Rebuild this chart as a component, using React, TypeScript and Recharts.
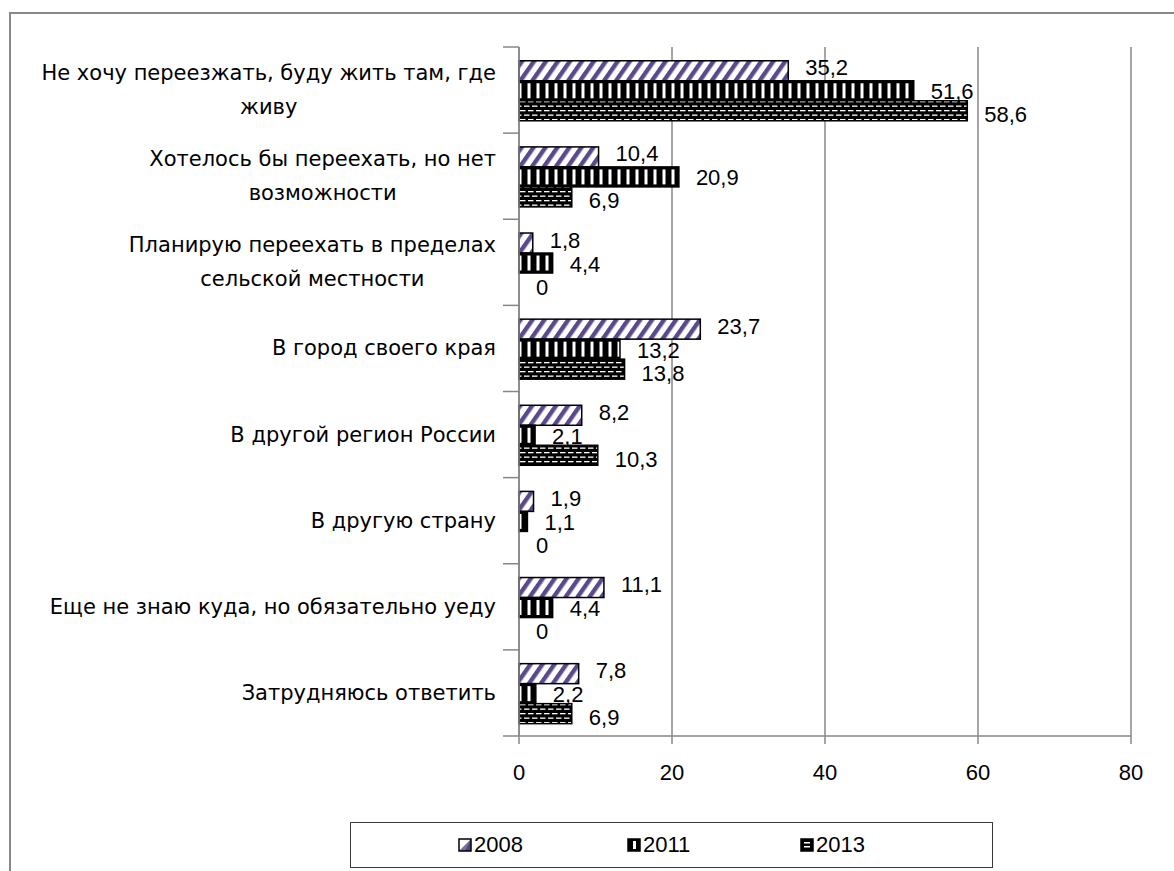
import { BarChart, Bar, XAxis, YAxis, CartesianGrid, LabelList } from "recharts";

const categories = [
  "Не хочу переезжать, буду жить там, где\nживу",
  "Хотелось бы переехать, но нет\nвозможности",
  "Планирую переехать в пределах\nсельской местности",
  "В город своего края",
  "В другой регион России",
  "В другую страну",
  "Еще не знаю куда, но обязательно уеду",
  "Затрудняюсь ответить",
];
const years = ["2008", "2011", "2013"];
const v2008 = [35.2, 10.4, 1.8, 23.7, 8.2, 1.9, 11.1, 7.8];
const v2011 = [51.6, 20.9, 4.4, 13.2, 2.1, 1.1, 4.4, 2.2];
const v2013 = [58.6, 6.9, 0, 13.8, 10.3, 0, 0, 6.9];
const xTicks = [0, 20, 40, 60, 80];

const data = categories.map((name, i) => ({
  name,
  y2008: v2008[i],
  y2011: v2011[i],
  y2013: v2013[i],
}));

// no Times-like font in the sandbox: wider sans for categories, Liberation Sans for numbers
const CAT_FONT = "'DejaVu Sans', 'Liberation Sans', sans-serif";
const CAT_FS = 21;
const FONT = "'Liberation Sans', Arial, sans-serif";
const FS = 22;
const GRAY = "#878787";
const W = 1174;
const H = 871;
const M = { top: 47, right: 43, left: 0, bottom: 75 };
const X_AXIS_H = 60;
const Y_AXIS_W = 519;
const LABEL_GAP = 23;
const BAND = (H - M.top - M.bottom - X_AXIS_H) / categories.length;

let ctx: CanvasRenderingContext2D | null = null;
function textWidth(s: string) {
  if (!ctx) ctx = document.createElement("canvas").getContext("2d");
  if (!ctx) return s.length * CAT_FS * 0.55;
  ctx.font = `${CAT_FS}px ${CAT_FONT}`;
  return ctx.measureText(s).width;
}

function CategoryTick(props: any) {
  const { x, y, payload, index } = props;
  const lines = String(payload.value).split("\n");
  const maxW = Math.max(...lines.map(textWidth));
  const cx = x - maxW / 2;
  const lineH = 34;
  const y0 = y - ((lines.length - 1) * lineH) / 2;
  const axisX = x + LABEL_GAP;
  return (
    <g>
      <line x1={axisX - 16} x2={axisX} y1={y - BAND / 2} y2={y - BAND / 2} stroke={GRAY} strokeWidth={1.5} />
      {index === categories.length - 1 && (
        <line x1={axisX - 16} x2={axisX} y1={y + BAND / 2} y2={y + BAND / 2} stroke={GRAY} strokeWidth={1.5} />
      )}
      {lines.map((l, i) => (
        <text
          key={i}
          x={cx}
          y={y0 + i * lineH}
          textAnchor="middle"
          dominantBaseline="central"
          style={{ fontFamily: CAT_FONT, fontSize: CAT_FS }}
          fill="#000"
        >
          {l}
        </text>
      ))}
    </g>
  );
}

// bar shapes: 2008 diagonal stripes, 2011 vertical slits, 2013 dashed brick
function shapeFor(year: string) {
  return (p: any) => {
    const { x, y, width, height } = p;
    if (!width || width <= 0) return <g />;
    if (year === "2011") {
      return (
        <g>
          <rect x={x} y={y} width={width} height={height} fill="#000" />
          <rect x={x} y={y + 2.5} width={width} height={Math.max(0, height - 5)} fill="url(#p2011)" />
          <rect x={x} y={y} width={width} height={height} fill="none" stroke="#000" strokeWidth={1.5} />
        </g>
      );
    }
    return (
      <rect
        x={x}
        y={y}
        width={width}
        height={height}
        fill={year === "2008" ? "url(#p2008)" : "url(#p2013)"}
        stroke="#000"
        strokeWidth={1.5}
      />
    );
  };
}

function valueLabel(dy: number) {
  return (p: any) => {
    const { x, y, width, height, value } = p;
    return (
      <text
        x={x + width + 17}
        y={y + height / 2 + dy}
        dominantBaseline="central"
        style={{ fontFamily: FONT, fontSize: FS }}
        fill="#000"
      >
        {String(value).replace(".", ",")}
      </text>
    );
  };
}

const labelDy: Record<string, number> = { "2008": -3, "2011": 1, "2013": 4 };

function Patterns() {
  return (
    <svg width={0} height={0} style={{ position: "absolute" }}>
      <defs>
        <pattern id="p2008" patternUnits="userSpaceOnUse" width={9.8} height={20} patternTransform="rotate(35)">
          <rect width={9.8} height={20} fill="#fff" />
          <rect x={0} width={4.4} height={20} fill="#5a4a8c" />
        </pattern>
        <pattern id="p2011" patternUnits="userSpaceOnUse" width={9} height={10}>
          <rect x={5.5} width={3} height={10} fill="#fff" />
        </pattern>
        <pattern id="p2013" patternUnits="userSpaceOnUse" width={8} height={9}>
          <rect width={8} height={9} fill="#000" />
          <rect x={0} y={2} width={5.5} height={1.3} fill="#fff" />
          <rect x={4} y={6.5} width={4} height={1.3} fill="#fff" />
          <rect x={0} y={6.5} width={1.5} height={1.3} fill="#fff" />
        </pattern>
      </defs>
    </svg>
  );
}

function Swatch({ year }: { year: string }) {
  return (
    <svg width={14} height={14} style={{ display: "block" }}>
      {year === "2008" && (
        <>
          <rect x={1} y={1} width={12} height={12} fill="#fff" />
          <polygon points="13,1 13,13 1,13" fill="#5a4a8c" opacity={0.8} />
          <polygon points="13,1 13,13 7,13" fill="#3a2f60" opacity={0.6} />
        </>
      )}
      {year === "2011" && (
        <>
          <rect x={1} y={1} width={12} height={12} fill="#000" />
          <rect x={6} y={3} width={3} height={8} fill="#fff" />
        </>
      )}
      {year === "2013" && (
        <>
          <rect x={1} y={1} width={12} height={12} fill="#000" />
          <rect x={4} y={4} width={6} height={1.5} fill="#fff" />
          <rect x={4} y={8} width={6} height={1.5} fill="#fff" />
        </>
      )}
      <rect x={1} y={1} width={12} height={12} fill="none" stroke="#000" strokeWidth={1.5} />
    </svg>
  );
}

export default function App() {
  return (
    <div style={{ position: "relative", width: W, height: H, overflow: "hidden", background: "#fff" }}>
      <style>{`body{margin:0;overflow:hidden}`}</style>
      <Patterns />
      <div
        style={{
          position: "absolute",
          left: 9,
          top: 12,
          right: 0,
          bottom: 0,
          borderLeft: `2px solid ${GRAY}`,
          borderTop: `2px solid ${GRAY}`,
        }}
      />
      <div style={{ position: "absolute", left: 0, top: 0 }}>
        <BarChart
          width={W}
          height={H}
          data={data}
          layout="vertical"
          margin={M}
          barCategoryGap="16%"
          barGap={0}
        >
          <CartesianGrid horizontal={false} stroke={GRAY} strokeWidth={1.5} />
          <XAxis
            type="number"
            domain={[0, 80]}
            ticks={xTicks}
            height={X_AXIS_H}
            tickSize={8}
            tickMargin={20}
            axisLine={{ stroke: GRAY, strokeWidth: 1.5 }}
            tickLine={{ stroke: GRAY, strokeWidth: 1.5 }}
            tick={{ fill: "#000", style: { fontFamily: FONT, fontSize: FS } }}
          />
          <YAxis
            type="category"
            dataKey="name"
            width={Y_AXIS_W}
            interval={0}
            tickSize={0}
            tickMargin={LABEL_GAP}
            tickLine={false}
            axisLine={{ stroke: GRAY, strokeWidth: 1.5 }}
            tick={<CategoryTick />}
          />
          {years.map((yr) => (
            <Bar
              key={yr}
              dataKey={`y${yr}`}
              name={yr}
              isAnimationActive={false}
              shape={shapeFor(yr)}
            >
              <LabelList dataKey={`y${yr}`} content={valueLabel(labelDy[yr])} />
            </Bar>
          ))}
        </BarChart>
      </div>
      <div
        style={{
          position: "absolute",
          left: 350,
          top: 822,
          width: 641,
          height: 44,
          border: "1.5px solid #3a3a3a",
          fontFamily: FONT,
          fontSize: FS,
          color: "#000",
        }}
      >
        {years.map((yr, i) => (
          <div
            key={yr}
            style={{
              position: "absolute",
              left: [107, 276, 449][i],
              top: 0,
              height: 44,
              display: "flex",
              alignItems: "center",
              gap: 2,
            }}
          >
            <Swatch year={yr} />
            <span>{yr}</span>
          </div>
        ))}
      </div>
    </div>
  );
}
